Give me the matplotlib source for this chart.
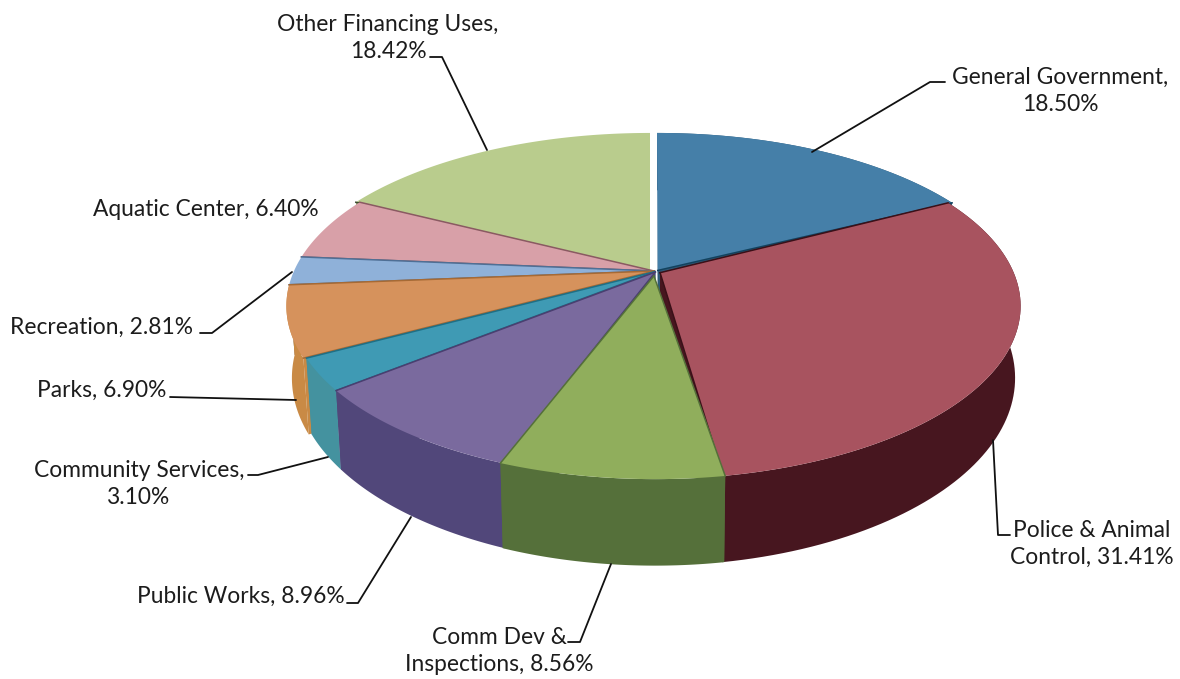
import numpy as np
import matplotlib
matplotlib.use('Agg')
import matplotlib.pyplot as plt
from matplotlib.patches import Polygon

plt.rcParams['font.family'] = ['Lato', 'DejaVu Sans']

# === Data ===
categories = ['General Government', 'Police & Animal Control', 'Comm Dev & Inspections',
              'Public Works', 'Community Services', 'Parks', 'Recreation',
              'Aquatic Center', 'Other Financing Uses']
values = [18.50, 31.41, 8.56, 8.96, 3.10, 6.90, 2.81, 6.40, 18.42]

# === Styles ===
top_colors = ['#457fa8', '#a8535f', '#90ae5c', '#7a6a9e', '#3f9ab4',
              '#d6925c', '#8fb1d9', '#d8a0a8', '#b9cc8d']
side_colors = ['#2f5a78', '#47161f', '#55703a', '#51477a', '#44929f',
               '#c98a45', '#6d8cb0', '#b07e86', '#8fa168']
edge_colors = ['#12425e', '#3a1018', '#55703a', '#4a3f70', '#1f6f85',
               '#a66a35', '#4f6f95', '#8a5a62', '#3c4a30']
apex_shift = [0.004, 0.022, 0.03, 0.008, 0.006, 0.0, 0.0, 0.0, 0.0]
slice_dx = [3, -1, 1, 3, 3, 0, 0, 0, -4]
draw_order = [8, 0, 7, 6, 5, 1, 4, 3, 2]

# === Projection of the tilted pie, in picture pixels ===
CX, CY = 654, 271
RX, RY = 360, 166
PERSP = 0.2024
DEPTH = 69


def project(x, y, z=0.0, dx=0):
    w = 1 + PERSP * y
    sx = CX + dx + RX * x / w * (1 - 0.015 * z)
    sy = CY - RY * y / w + DEPTH * z / w
    return np.column_stack([sx, sy])


fig = plt.figure(figsize=(11.8, 6.79), dpi=100)
ax = fig.add_axes([0, 0, 1, 1])
ax.set_xlim(0, 1180)
ax.set_ylim(679, 0)
ax.axis('off')

# angles run clockwise from 12 o'clock
fractions = np.array(values) / np.sum(values)
edges = np.concatenate([[0], np.cumsum(fractions)]) * 2 * np.pi

for i in draw_order:
    a0, a1 = edges[i], edges[i + 1]
    mid = (a0 + a1) / 2
    ox, oy = apex_shift[i] * np.sin(mid), apex_shift[i] * np.cos(mid)
    dx = slice_dx[i]
    t = np.linspace(a0, a1, 80)
    rim_x, rim_y = np.sin(t), np.cos(t)

    # cut walls, seen through the gaps between slices
    for k in (0, -1):
        wall = np.vstack([project(np.array([ox, rim_x[k]]), np.array([oy, rim_y[k]]), 0.0, dx),
                          project(np.array([rim_x[k], ox]), np.array([rim_y[k], oy]), 1.0, dx)])
        ax.add_patch(Polygon(wall, closed=True, fc=side_colors[i], ec='none', zorder=1))

    # outer rim, skipped for the slices whose rim faces away from the viewer
    if i in (0, 1, 2, 3, 4, 5):
        rim = np.vstack([project(rim_x, rim_y, 0.0, dx), project(rim_x[::-1], rim_y[::-1], 1.0, dx)])
        ax.add_patch(Polygon(rim, closed=True, fc=side_colors[i], ec='none', zorder=1))

    # top face, only the cut edges get a dark line (not the white gap at 12 o'clock)
    apex = project(np.array([ox]), np.array([oy]), 0.0, dx)
    ring = project(rim_x, rim_y, 0.0, dx)
    ax.add_patch(Polygon(np.vstack([apex, ring]), closed=True, fc=top_colors[i], ec='none', zorder=1))
    ends = [ring[-1]] if i == 0 else [ring[0]] if i == 8 else [ring[0], ring[-1]]
    for end in ends:
        ax.plot([apex[0, 0], end[0]], [apex[0, 1], end[1]], color=edge_colors[i], lw=1.1, zorder=1)

# === Labels and leader lines ===
FS = 16.4
text_color = '#1c1c1c'
labels = [
    (388, 38, 'Other Financing Uses,\n18.42%', 'center'),
    (1060, 91, 'General Government,\n18.50%', 'center'),
    (93, 209, 'Aquatic Center, 6.40%', 'left'),
    (10, 327, 'Recreation, 2.81%', 'left'),
    (37, 390, 'Parks, 6.90%', 'left'),
    (139, 484, 'Community Services,\n3.10%', 'center'),
    (137, 596, 'Public Works, 8.96%', 'left'),
    (499, 651, 'Comm Dev &\nInspections, 8.56%', 'center'),
    (1092, 544, 'Police & Animal\nControl, 31.41%', 'center'),
]
for x, y, s, ha in labels:
    ax.text(x, y, s, ha=ha, va='center', fontsize=FS, color=text_color,
            linespacing=1.38, multialignment='center', zorder=3)

leaders = [
    [(430, 57), (442, 57), (487, 150)],
    [(945, 82), (930, 82), (812, 152)],
    [(200, 333), (212, 333), (292, 272)],
    [(170, 397), (296, 400)],
    [(248, 475), (258, 475), (328, 457)],
    [(347, 603), (358, 603), (411, 517)],
    [(568, 642), (580, 642), (611, 564)],
    [(993, 440), (998, 535), (1010, 535)],
]
for pts in leaders:
    xs, ys = zip(*pts)
    ax.plot(xs, ys, color='#111111', lw=1.3, zorder=2, solid_capstyle='round')

fig.savefig('out.png', dpi=100, facecolor='white')
